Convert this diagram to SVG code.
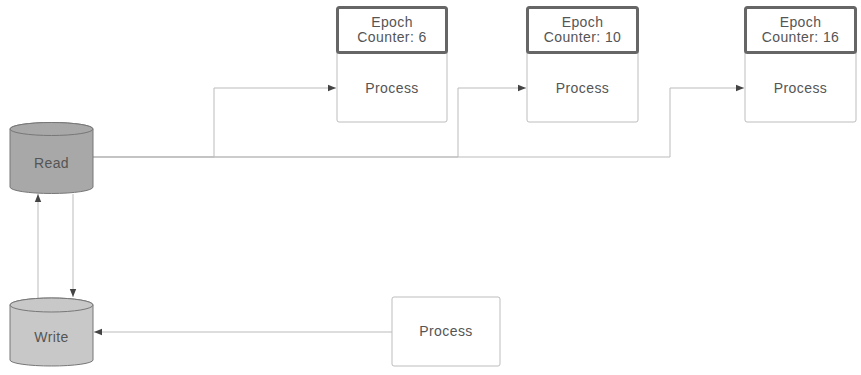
<svg xmlns="http://www.w3.org/2000/svg" width="861" height="375" viewBox="0 0 861 375">
  <style>
    .lbl { font-family: "Liberation Sans", Arial, sans-serif; font-size: 14px; letter-spacing: 0.4px; fill: #555; text-anchor: middle; }
    .proc { fill: #fff; stroke: #bdbdbd; stroke-width: 1; }
    .hdr { fill: #fff; stroke: #666; stroke-width: 3; }
    .conn { fill: none; stroke: #bbb; stroke-width: 1; }
    .cyl { stroke: #777; stroke-width: 1; }
  </style>
  <defs>
    <marker id="arrow" viewBox="0 0 10 10" refX="10" refY="5" markerWidth="8" markerHeight="8" markerUnits="userSpaceOnUse" orient="auto">
      <path d="M0,1 L10,5 L0,9 z" fill="#444"/>
    </marker>
  </defs>
  <rect width="861" height="375" fill="#fff"/>

  <g id="connectors">
    <path class="conn" d="M93,157 H214 V88 H336" marker-end="url(#arrow)"/>
    <path class="conn" d="M93,157 H458 V88 H526" marker-end="url(#arrow)"/>
    <path class="conn" d="M93,157 H670 V88 H744" marker-end="url(#arrow)"/>
    <path class="conn" d="M38,298 V194" marker-end="url(#arrow)"/>
    <path class="conn" d="M73,194 V297" marker-end="url(#arrow)"/>
    <path class="conn" d="M392,332 H94" marker-end="url(#arrow)"/>
  </g>

  <g id="read">
    <path class="cyl" fill="#a8a8a8" d="M10,129 A41.5,6.5 0 0 1 93,129 V187 A41.5,6.5 0 0 1 10,187 Z"/>
    <ellipse class="cyl" fill="#a8a8a8" cx="51.5" cy="129" rx="41.5" ry="6.5"/>
    <text class="lbl" x="51.5" y="168">Read</text>
  </g>

  <g id="write">
    <path class="cyl" fill="#c8c8c8" d="M10,305 A41.5,7 0 0 1 93,305 V360 A41.5,6 0 0 1 10,360 Z"/>
    <ellipse class="cyl" fill="#c8c8c8" cx="51.5" cy="305" rx="41.5" ry="7"/>
    <text class="lbl" x="51.5" y="342">Write</text>
  </g>

  <g id="epoch6">
    <rect class="proc" x="337" y="7" width="110" height="115" rx="2"/>
    <rect class="hdr" x="337.5" y="7.5" width="109" height="45" rx="2"/>
    <text class="lbl" x="392" y="27">Epoch</text>
    <text class="lbl" x="392" y="42">Counter: 6</text>
    <text class="lbl" x="392" y="93">Process</text>
  </g>

  <g id="epoch10">
    <rect class="proc" x="527" y="7" width="111" height="115" rx="2"/>
    <rect class="hdr" x="527.5" y="7.5" width="110" height="45" rx="2"/>
    <text class="lbl" x="582.5" y="27">Epoch</text>
    <text class="lbl" x="582.5" y="42">Counter: 10</text>
    <text class="lbl" x="582.5" y="93">Process</text>
  </g>

  <g id="epoch16">
    <rect class="proc" x="745" y="7" width="111" height="115" rx="2"/>
    <rect class="hdr" x="745.5" y="7.5" width="110" height="45" rx="2"/>
    <text class="lbl" x="800.5" y="27">Epoch</text>
    <text class="lbl" x="800.5" y="42">Counter: 16</text>
    <text class="lbl" x="800.5" y="93">Process</text>
  </g>

  <g id="writer">
    <rect class="proc" x="392" y="297" width="108" height="69" rx="2"/>
    <text class="lbl" x="446" y="336">Process</text>
  </g>
</svg>
